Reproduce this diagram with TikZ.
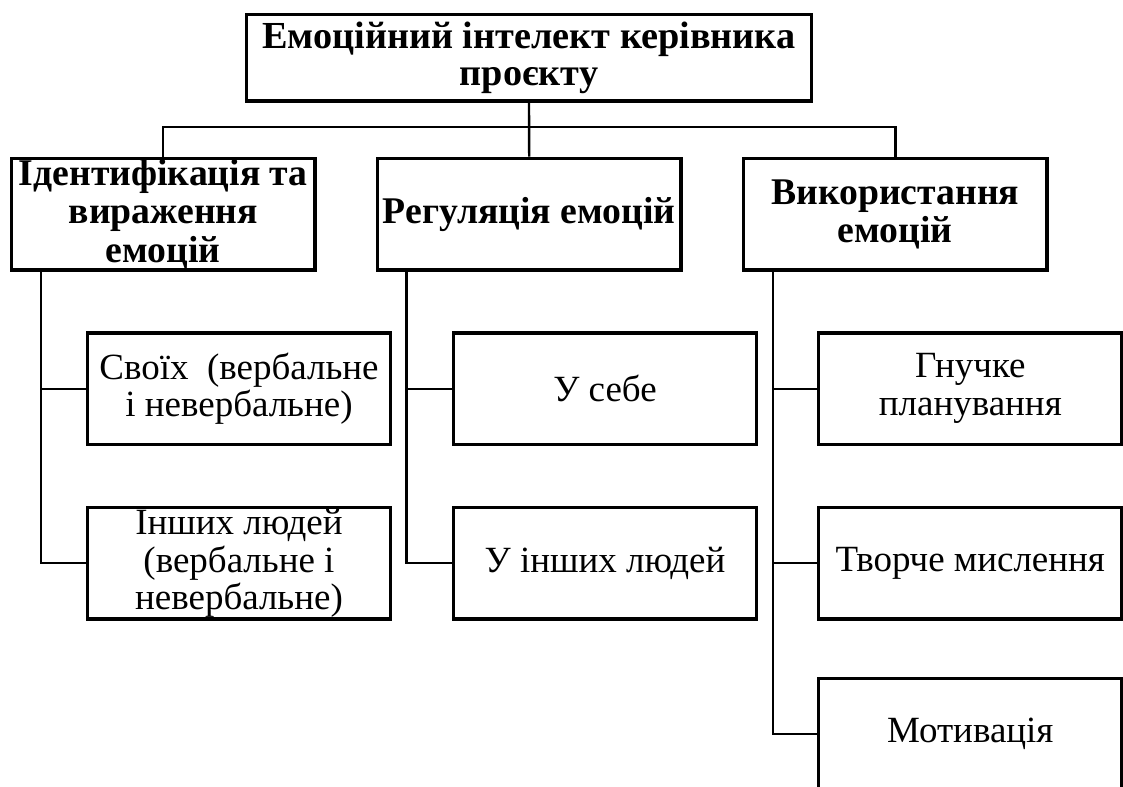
\documentclass[tikz,border=0pt]{standalone}
\usepackage{fontspec}
\setmainfont{Liberation Serif}
\usetikzlibrary{calc}
\tikzstyle{BoxNode}=[rectangle, draw=black, line width=2.4pt, inner sep=0pt, align=center, minimum width=7.58cm]
\tikzstyle{MainNode}=[BoxNode, font=\bfseries\fontsize{27.2pt}{26.6pt}\selectfont, minimum width=14.115cm, minimum height=2.17cm]
\tikzstyle{GroupNode}=[BoxNode, font=\bfseries\fontsize{26.8pt}{27.2pt}\selectfont, minimum height=2.79cm]
\tikzstyle{ItemNode}=[BoxNode, font=\fontsize{26.3pt}{27pt}\selectfont, minimum height=2.775cm]
\tikzstyle{Link}=[line width=1.7pt]

\begin{document}
\begin{tikzpicture}[x=0.025cm, y=-0.025cm]
\useasboundingbox (0,0) rectangle (1123,787);

\node[MainNode, yshift=-3pt](EI) at (529,53.4) {Емоційний інтелект керівника\\проєкту};

\node[GroupNode](IDENT) at (163.3,214.2) {Ідентифікація та\\вираження\\емоцій};
\node[GroupNode](REG) at (529.2,214.2) {Регуляція емоцій};
\node[GroupNode](USE) at (895.3,214.2) {Використання\\емоцій};

\node[ItemNode](OWN) at (239,388.7) {Своїх\ \ (вербальне\\і невербальне)};
\node[ItemNode](OTHERS) at (239,563.3) {Інших людей\\(вербальне і\\невербальне)};
\node[ItemNode](SELF) at (605,388.7) {У себе};
\node[ItemNode](OTHPPL) at (605,563.3) {У інших людей};
\node[ItemNode](PLAN) at (970.3,388.7) {Гнучке\\планування};
\node[ItemNode](CREAT) at (970.3,563.3) {Творче мислення};
\node[ItemNode](MOTIV) at (970.3,733.7) {Мотивація};

\coordinate (BUS) at (529,127);
\coordinate (SPINEA) at ($(IDENT.south west)+(30.8,0)$);
\coordinate (SPINEB) at ($(REG.south west)+(30.8,0)$);
\coordinate (SPINEC) at ($(USE.south west)+(30.8,0)$);

% top level
\draw[Link](EI.south) -- (REG.north);
\draw[Link](IDENT.north) |- (BUS) -| (USE.north);

% branches
\draw[Link](SPINEA) |- (OWN.west);
\draw[Link](SPINEA) |- (OTHERS.west);
\draw[Link](SPINEB) |- (SELF.west);
\draw[Link](SPINEB) |- (OTHPPL.west);
\draw[Link](SPINEC) |- (PLAN.west);
\draw[Link](SPINEC) |- (CREAT.west);
\draw[Link](SPINEC) |- (MOTIV.west);
\end{tikzpicture}
\end{document}
